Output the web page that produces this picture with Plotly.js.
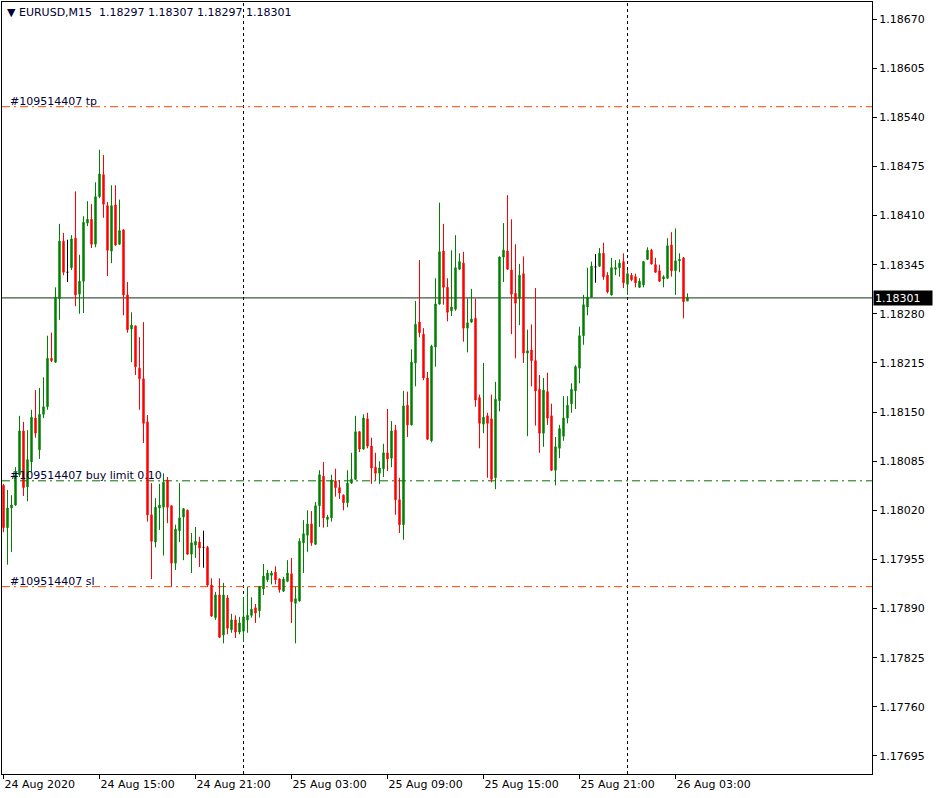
<!DOCTYPE html>
<html><head><meta charset="utf-8">
<script src="https://cdn.plot.ly/plotly-3.0.1.min.js"></script>
<style>html,body{margin:0;padding:0;background:#fff}#chart{width:936px;height:798px}</style>
</head><body><div id="chart"></div>
<script>
const symbol = 'EURUSD,M15';
const startTime = '2020-08-24T09:00:00Z';   // first M15 bar
const barMinutes = 15;

const openP = [
1.18053,1.17997,1.18023,1.18027,1.18067,1.18125,1.18051,1.18084,1.18142,1.18100,
1.18147,1.18157,1.18221,1.18216,1.18300,1.18376,1.18335,1.18341,1.18380,1.18306,
1.18323,1.18400,1.18405,1.18372,1.18435,1.18464,1.18423,1.18363,1.18424,1.18372,
1.18391,1.18305,1.18260,1.18264,1.18208,1.18194,1.18137,1.18014,1.17978,1.18023,
1.18024,1.18060,1.18026,1.17950,1.17993,1.18011,1.18020,1.17962,1.17974,1.17978,
1.17971,1.17971,1.17921,1.17878,1.17908,1.17855,1.17904,1.17862,1.17875,1.17859,
1.17860,1.17875,1.17881,1.17891,1.17887,1.17916,1.17928,1.17934,1.17938,1.17929,
1.17913,1.17926,1.17936,1.17897,1.17900,1.17977,1.17987,1.18002,1.17975,1.18026,
1.18065,1.18008,1.18010,1.18059,1.18050,1.18040,1.18030,1.18056,1.18061,1.18124,
1.18101,1.18141,1.18105,1.18077,1.18069,1.18075,1.18096,1.18089,1.18126,1.18034,
1.18001,1.18159,1.18133,1.18215,1.18269,1.18253,1.18195,1.18112,1.18236,1.18293,
1.18363,1.18315,1.18284,1.18286,1.18339,1.18347,1.18261,1.18269,1.18274,1.18169,
1.18134,1.18145,1.18141,1.18063,1.18165,1.18355,1.18363,1.18338,1.18307,1.18300,
1.18333,1.18228,1.18232,1.18218,1.18180,1.18122,1.18177,1.18145,1.18073,1.18102,
1.18118,1.18142,1.18161,1.18178,1.18208,1.18251,1.18289,1.18302,1.18342,1.18343,
1.18360,1.18331,1.18305,1.18339,1.18341,1.18349,1.18319,1.18331,1.18329,1.18315,
1.18318,1.18352,1.18364,1.18345,1.18337,1.18326,1.18327,1.18371,1.18337,1.18350,
1.18354,1.18297
];
const highP = [
1.18055,1.18047,1.18040,1.18077,1.18145,1.18137,1.18126,1.18153,1.18179,1.18182,
1.18196,1.18251,1.18255,1.18315,1.18399,1.18387,1.18378,1.18384,1.18442,1.18358,
1.18409,1.18429,1.18425,1.18454,1.18497,1.18490,1.18428,1.18450,1.18450,1.18431,
1.18392,1.18322,1.18282,1.18264,1.18249,1.18269,1.18146,1.18056,1.18036,1.18055,
1.18069,1.18064,1.18026,1.18001,1.18056,1.18023,1.18021,1.17990,1.17998,1.17985,
1.17993,1.17973,1.17930,1.17912,1.17930,1.17924,1.17908,1.17883,1.17881,1.17879,
1.17905,1.17919,1.17905,1.17896,1.17920,1.17949,1.17941,1.17940,1.17946,1.17930,
1.17932,1.17954,1.17957,1.17919,1.17983,1.18007,1.18020,1.18019,1.18031,1.18073,
1.18084,1.18014,1.18067,1.18075,1.18060,1.18041,1.18073,1.18096,1.18145,1.18125,
1.18147,1.18149,1.18116,1.18096,1.18085,1.18108,1.18154,1.18138,1.18133,1.18063,
1.18178,1.18177,1.18233,1.18297,1.18351,1.18261,1.18203,1.18239,1.18327,1.18427,
1.18399,1.18327,1.18364,1.18384,1.18360,1.18362,1.18300,1.18313,1.18300,1.18173,
1.18215,1.18149,1.18173,1.18190,1.18356,1.18400,1.18437,1.18405,1.18372,1.18346,
1.18356,1.18259,1.18266,1.18314,1.18199,1.18195,1.18202,1.18161,1.18117,1.18133,
1.18171,1.18171,1.18188,1.18212,1.18263,1.18305,1.18341,1.18349,1.18359,1.18367,
1.18374,1.18335,1.18354,1.18351,1.18352,1.18360,1.18338,1.18334,1.18333,1.18327,
1.18350,1.18368,1.18366,1.18354,1.18345,1.18331,1.18380,1.18388,1.18393,1.18360,
1.18355,1.18307
];
const lowP = [
1.17991,1.17948,1.17965,1.18026,1.18064,1.18039,1.18032,1.18071,1.18116,1.18088,
1.18142,1.18153,1.18216,1.18215,1.18272,1.18331,1.18322,1.18338,1.18290,1.18280,
1.18281,1.18396,1.18367,1.18368,1.18433,1.18407,1.18330,1.18347,1.18370,1.18371,
1.18278,1.18255,1.18216,1.18199,1.18153,1.18109,1.18005,1.17929,1.17971,1.17994,
1.17960,1.18003,1.17919,1.17941,1.17978,1.17954,1.17961,1.17937,1.17957,1.17945,
1.17944,1.17919,1.17879,1.17875,1.17851,1.17844,1.17856,1.17858,1.17851,1.17856,
1.17846,1.17858,1.17878,1.17871,1.17878,1.17908,1.17925,1.17922,1.17922,1.17911,
1.17912,1.17925,1.17871,1.17844,1.17899,1.17937,1.17965,1.17973,1.17974,1.17998,
1.17997,1.17998,1.18005,1.18038,1.18035,1.18020,1.18024,1.18055,1.18060,1.18097,
1.18100,1.18102,1.18055,1.18060,1.18055,1.18064,1.18072,1.18077,1.18014,1.17990,
1.17981,1.18117,1.18132,1.18184,1.18249,1.18192,1.18113,1.18110,1.18210,1.18292,
1.18292,1.18270,1.18277,1.18284,1.18338,1.18243,1.18229,1.18268,1.18157,1.18102,
1.18122,1.18063,1.18057,1.18048,1.18151,1.18322,1.18338,1.18253,1.18221,1.18265,
1.18215,1.18118,1.18184,1.18132,1.18096,1.18104,1.18133,1.18072,1.18053,1.18089,
1.18112,1.18135,1.18149,1.18154,1.18188,1.18239,1.18278,1.18301,1.18321,1.18342,
1.18325,1.18307,1.18304,1.18331,1.18329,1.18314,1.18305,1.18323,1.18315,1.18314,
1.18315,1.18351,1.18345,1.18334,1.18322,1.18315,1.18326,1.18329,1.18305,1.18335,
1.18274,1.18297
];
const closeP = [
1.17997,1.18023,1.18027,1.18067,1.18125,1.18050,1.18087,1.18143,1.18122,1.18147,
1.18157,1.18221,1.18218,1.18302,1.18376,1.18335,1.18335,1.18379,1.18305,1.18323,
1.18401,1.18405,1.18372,1.18435,1.18465,1.18425,1.18364,1.18423,1.18371,1.18390,
1.18305,1.18259,1.18265,1.18210,1.18194,1.18135,1.18014,1.17979,1.18024,1.18027,
1.18057,1.18024,1.17950,1.17995,1.18010,1.18022,1.17962,1.17977,1.17979,1.17970,
1.17971,1.17921,1.17880,1.17908,1.17852,1.17908,1.17864,1.17875,1.17859,1.17871,
1.17879,1.17881,1.17889,1.17884,1.17919,1.17933,1.17937,1.17937,1.17928,1.17915,
1.17929,1.17937,1.17899,1.17903,1.17979,1.17989,1.18002,1.17977,1.18026,1.18067,
1.18010,1.18011,1.18060,1.18050,1.18043,1.18030,1.18056,1.18061,1.18124,1.18101,
1.18142,1.18105,1.18076,1.18069,1.18076,1.18096,1.18088,1.18125,1.18034,1.18001,
1.18158,1.18133,1.18216,1.18266,1.18255,1.18195,1.18114,1.18237,1.18293,1.18362,
1.18315,1.18282,1.18289,1.18341,1.18349,1.18261,1.18268,1.18273,1.18166,1.18135,
1.18143,1.18135,1.18061,1.18167,1.18355,1.18364,1.18339,1.18306,1.18294,1.18331,
1.18228,1.18231,1.18218,1.18178,1.18122,1.18179,1.18142,1.18073,1.18104,1.18128,
1.18142,1.18159,1.18180,1.18210,1.18251,1.18292,1.18302,1.18343,1.18342,1.18360,
1.18329,1.18309,1.18341,1.18341,1.18347,1.18321,1.18333,1.18325,1.18321,1.18323,
1.18349,1.18364,1.18346,1.18335,1.18323,1.18329,1.18370,1.18337,1.18350,1.18352,
1.18296,1.18301
];

// axis ticks
const timeTickVals = ['2020-08-24 09:00','2020-08-24 15:00','2020-08-24 21:00','2020-08-25 03:00',
                      '2020-08-25 09:00','2020-08-25 15:00','2020-08-25 21:00','2020-08-26 03:00'];
const timeTickText = ['24 Aug 2020','24 Aug 15:00','24 Aug 21:00','25 Aug 03:00',
                      '25 Aug 09:00','25 Aug 15:00','25 Aug 21:00','26 Aug 03:00'];
const priceTicks = [1.18670,1.18605,1.18540,1.18475,1.18410,1.18345,1.18280,1.18215,
                    1.18150,1.18085,1.18020,1.17955,1.17890,1.17825,1.17760,1.17695];
const daySeparators = ['2020-08-25 00:00','2020-08-26 00:00'];

// order levels
const orderLevels = [1.18554, 1.18059, 1.17919];
const orderLabels = ['#109514407 tp', '#109514407 buy limit 0.10', '#109514407 sl'];
const orderColors = ['#ff4500', '#007000', '#ff4500'];

function fmtTime(ms){ return new Date(ms).toISOString().slice(0,16).replace('T',' '); }
const t0 = Date.parse(startTime);
const times = openP.map((_, i) => fmtTime(t0 + i * barMinutes * 60000));
const n = openP.length;
const last = n - 1;
const bid = closeP[last];

const idxMain = [], idxDoji = [];
for (let i = 0; i < n; i++) (openP[i] === closeP[i] ? idxDoji : idxMain).push(i);
const pick = (arr, idx) => idx.map(i => arr[i]);

const FONT = 'DejaVu Sans, Verdana, sans-serif';

const traces = [
  {
    type: 'candlestick',
    x: pick(times, idxMain), open: pick(openP, idxMain), high: pick(highP, idxMain),
    low: pick(lowP, idxMain), close: pick(closeP, idxMain),
    increasing: {line: {color: '#008000', width: 1}, fillcolor: '#008000'},
    decreasing: {line: {color: '#ff0000', width: 1}, fillcolor: '#ff0000'},
    whiskerwidth: 0, showlegend: false, hoverinfo: 'skip'
  },
  {
    type: 'candlestick',
    x: pick(times, idxDoji), open: pick(openP, idxDoji), high: pick(highP, idxDoji),
    low: pick(lowP, idxDoji), close: pick(closeP, idxDoji),
    increasing: {line: {color: '#000000', width: 1}, fillcolor: '#000000'},
    decreasing: {line: {color: '#000000', width: 1}, fillcolor: '#000000'},
    whiskerwidth: 0, showlegend: false, hoverinfo: 'skip'
  }
];

const shapes = [];
daySeparators.forEach(d => shapes.push({
  type: 'line', xref: 'x', yref: 'paper', x0: d, x1: d, y0: 0, y1: 1,
  line: {color: '#000000', width: 1, dash: '3px,3px'}, layer: 'below'
}));
orderLevels.forEach((lv, i) => shapes.push({
  type: 'line', xref: 'paper', yref: 'y', x0: 0, x1: 1, y0: lv, y1: lv,
  line: {color: orderColors[i], width: 1, dash: '8px,4px,2px,4px'}, layer: 'below'
}));
shapes.push({
  type: 'line', xref: 'paper', yref: 'y', x0: 0, x1: 1, y0: bid, y1: bid,
  line: {color: '#0f2f0f', width: 1}, layer: 'below'
});

const annotations = [];
annotations.push({
  xref: 'paper', yref: 'paper', x: 0.004, y: 0.987, xanchor: 'left', yanchor: 'middle',
  showarrow: false,
  text: '\u25BC ' + symbol + '\u00a0\u00a0' + [openP[last], highP[last], lowP[last], closeP[last]].map(v => v.toFixed(5)).join(' '),
  font: {family: FONT, size: 11, color: '#000033'}
});
orderLevels.forEach((lv, i) => annotations.push({
  xref: 'paper', yref: 'y', x: 0.007, y: lv, xanchor: 'left', yanchor: 'bottom',
  showarrow: false, text: orderLabels[i], yshift: -3,
  font: {family: FONT, size: 11, color: '#000033'}
}));
annotations.push({
  xref: 'paper', yref: 'y', x: 1, y: bid, xanchor: 'left', yanchor: 'middle',
  showarrow: false, text: bid.toFixed(5), bgcolor: '#000000', borderpad: 1,
  width: 56, height: 12, align: 'left', xshift: 1,
  font: {family: FONT, size: 11, color: '#ffffff'}
});

const layout = {
  width: 936, height: 798,
  margin: {l: 2, r: 64, t: 2, b: 24, pad: 0},
  paper_bgcolor: '#ffffff', plot_bgcolor: '#ffffff',
  font: {family: FONT, size: 11, color: '#000000'},
  boxgap: 0.5,
  showlegend: false,
  xaxis: {
    type: 'date', range: ['2020-08-24 08:54:22', '2020-08-26 15:16:53'],
    rangeslider: {visible: false},
    showgrid: false, zeroline: false,
    showline: true, linecolor: '#000000', linewidth: 1, mirror: true,
    ticks: 'outside', ticklen: 4, tickcolor: '#000000', tickwidth: 1,
    tickmode: 'array', tickvals: timeTickVals, ticktext: timeTickText,
    ticklabelposition: 'outside right',
    tickfont: {family: FONT, size: 11, color: '#000000'}
  },
  yaxis: {
    side: 'right', range: [1.176711, 1.186925], fixedrange: true,
    showgrid: false, zeroline: false,
    showline: true, linecolor: '#000000', linewidth: 1, mirror: true,
    ticks: 'outside', ticklen: 4, tickcolor: '#000000', tickwidth: 1,
    tickmode: 'array', tickvals: priceTicks, ticktext: priceTicks.map(v => v.toFixed(5)),
    tickfont: {family: FONT, size: 11, color: '#000000'}
  },
  shapes: shapes,
  annotations: annotations
};

Plotly.newPlot('chart', traces, layout, {displayModeBar: false, staticPlot: true});
</script>
</body></html>
